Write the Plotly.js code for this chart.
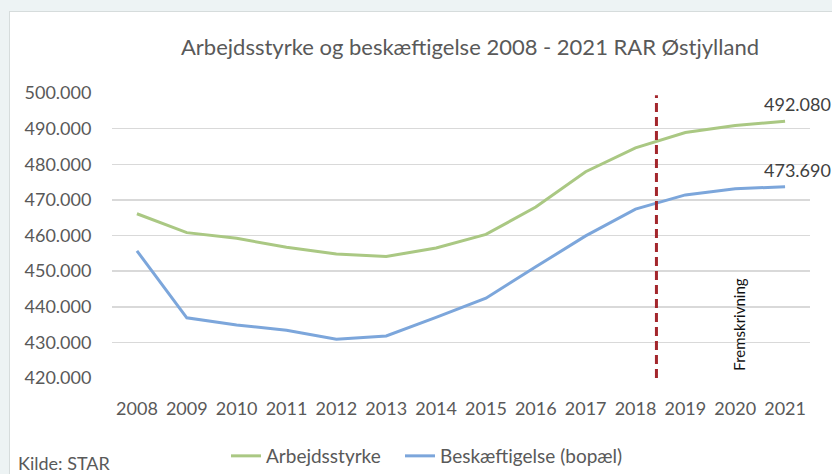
<!DOCTYPE html>
<html>
<head>
<meta charset="utf-8">
<script src="https://cdn.plot.ly/plotly-3.0.1.min.js"></script>
<style>
  html, body { margin: 0; padding: 0; background: #edf3f4; overflow: hidden; }
  #card { position: absolute; left: 9px; top: 11px; width: 840px; height: 480px;
          background: #fff; border: 1px solid #d6dcdc; }
  #graph { position: absolute; left: 0; top: 0; width: 832px; height: 474px; }
</style>
</head>
<body>
<div id="card"></div>
<div id="graph"></div>
<script>
// år og serier (antal personer)
const years = [2008, 2009, 2010, 2011, 2012, 2013, 2014, 2015, 2016, 2017, 2018, 2019, 2020, 2021];
const arbejdsstyrke = [466100, 460800, 459200, 456700, 454800, 454100, 456500, 460300, 468000, 477900, 484600, 488900, 490900, 492080];
const beskaeftigelse = [455700, 436900, 434900, 433400, 430900, 431800, 437000, 442400, 451200, 459900, 467400, 471400, 473100, 473690];
const yTicks = [420000, 430000, 440000, 450000, 460000, 470000, 480000, 490000, 500000];
const prognoseStart = 2018.42;  // stiplet linje - fremskrivning herefter

const font = "Lato, 'Open Sans', sans-serif";
const grey = '#595959';

const traces = [
    {
        x: years, y: arbejdsstyrke, name: 'Arbejdsstyrke',
        type: 'scatter', mode: 'lines', legend: 'legend',
        line: { color: '#aac883', width: 3 }
    },
    {
        x: years, y: beskaeftigelse, name: 'Beskæftigelse (bopæl)',
        type: 'scatter', mode: 'lines', legend: 'legend2',
        line: { color: '#7ca6db', width: 3 }
    }
];

// værdi-labels på sidste punkt
const last = years.length - 1;
const fmt = v => v.toLocaleString('da-DK');

// px -> paper (plotområde 112..810 x 93..378)
const px = v => (v - 112) / 698;
const py = v => (378 - v) / 285;

const legendStyle = (left) => ({
    orientation: 'h',
    x: px(left), xanchor: 'left',
    y: py(456), yanchor: 'middle',
    font: { size: 19, color: grey },
    itemwidth: 30
});

const layout = {
    width: 832, height: 474,
    margin: { l: 112, r: 22, t: 93, b: 96, autoexpand: false },
    paper_bgcolor: 'rgba(0,0,0,0)',
    plot_bgcolor: 'rgba(0,0,0,0)',
    separators: ',.',
    font: { family: font, color: grey, size: 18 },
    title: {
        text: 'Arbejdsstyrke og beskæftigelse 2008 - 2021 RAR Østjylland',
        font: { family: font, size: 22, color: grey },
        x: 470 / 832, xref: 'container', xanchor: 'center',
        y: 1 - 47 / 474, yref: 'container', yanchor: 'middle'
    },
    xaxis: {
        range: [2007.5, 2021.5],
        tickvals: years,
        showgrid: false, zeroline: false,
        ticks: 'outside', ticklen: 14, tickcolor: 'rgba(0,0,0,0)',
        tickfont: { size: 18, color: grey }
    },
    yaxis: {
        range: [420000, 500000],
        tickvals: yTicks,
        tickformat: ',.0f',
        showgrid: true, gridcolor: '#d9d9d9', gridwidth: 1.5,
        zeroline: false,
        ticks: 'outside', ticklen: 16, tickcolor: 'rgba(0,0,0,0)',
        tickfont: { size: 18, color: grey }
    },
    showlegend: true,
    legend: legendStyle(226),
    legend2: legendStyle(400),
    shapes: [
        {
            type: 'line', xref: 'x', yref: 'y',
            x0: prognoseStart, x1: prognoseStart, y0: 420000, y1: 499400,
            line: { color: '#a3262c', width: 3, dash: '9px,5px' }
        }
    ],
    annotations: [
        {
            x: years[last], y: arbejdsstyrke[last], text: fmt(arbejdsstyrke[last]),
            xanchor: 'center', yanchor: 'bottom', xshift: 12, yshift: 4,
            showarrow: false, font: { size: 18, color: '#404040' }
        },
        {
            x: years[last], y: beskaeftigelse[last], text: fmt(beskaeftigelse[last]),
            xanchor: 'center', yanchor: 'bottom', xshift: 12, yshift: 4,
            showarrow: false, font: { size: 18, color: '#404040' }
        },
        {
            x: 2020, y: 420000, text: 'Fremskrivning', textangle: -90,
            xanchor: 'center', yanchor: 'bottom', xshift: 3, yshift: 5,
            showarrow: false, font: { size: 15, color: '#111' }
        },
        {
            xref: 'paper', yref: 'paper', x: px(16), y: py(463),
            xanchor: 'left', yanchor: 'middle', text: 'Kilde: STAR',
            showarrow: false, font: { size: 18, color: grey }
        }
    ]
};

Plotly.newPlot('graph', traces, layout, { displayModeBar: false, staticPlot: true });
</script>
</body>
</html>
